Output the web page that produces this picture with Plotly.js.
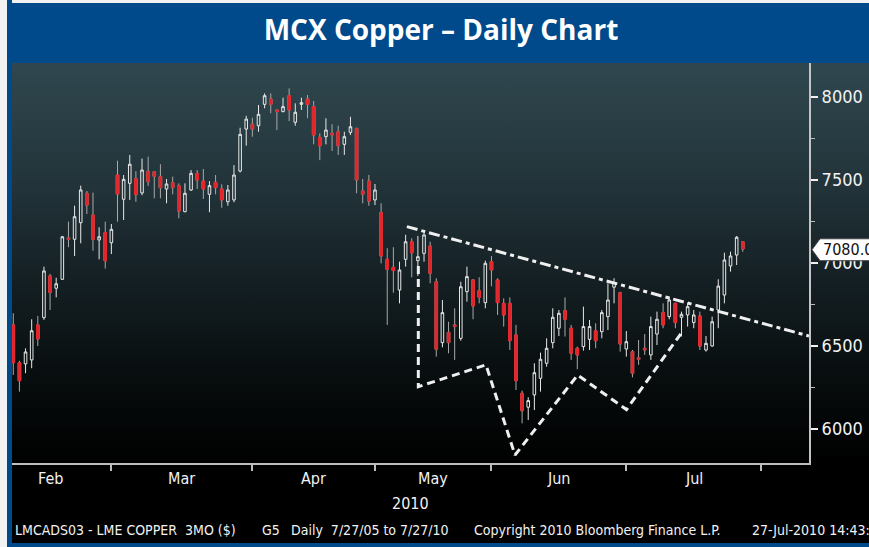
<!DOCTYPE html>
<html>
<head>
<meta charset="utf-8">
<script src="https://cdn.plot.ly/plotly-3.0.1.min.js"></script>
<style>
  html, body { margin: 0; padding: 0; background: #f2f2f2; }
  #wrap {
    position: relative; width: 869px; height: 547px; overflow: hidden;
    background:
      linear-gradient(#004a8c, #004a8c) 7px 0 / 5px 547px no-repeat,
      linear-gradient(#004a8c, #004a8c) 7px 3px / 862px 60px no-repeat,
      linear-gradient(#004a8c, #004a8c) 7px 543px / 862px 4px no-repeat,
      linear-gradient(#30474f 0%, #22343a 30%, #141f23 55%, #070c0d 80%, #000 100%) 12px 63px / 857px 400px no-repeat,
      linear-gradient(#000, #000) 7px 63px / 862px 484px no-repeat,
      #f2f2f2;
  }
  #chart { position: absolute; left: 0; top: 0; width: 869px; height: 547px; }
</style>
</head>
<body>
<div id="wrap"><div id="chart"></div></div>
<script>
// ---- data ----
const dates = [
 '2010-02-04','2010-02-05','2010-02-08','2010-02-09','2010-02-10','2010-02-11','2010-02-12','2010-02-15','2010-02-16','2010-02-17','2010-02-18','2010-02-19','2010-02-22','2010-02-23','2010-02-24','2010-02-25','2010-02-26',
 '2010-03-01','2010-03-02','2010-03-03','2010-03-04','2010-03-05','2010-03-08','2010-03-09','2010-03-10','2010-03-11','2010-03-12','2010-03-15','2010-03-16','2010-03-17','2010-03-18','2010-03-19','2010-03-22','2010-03-23','2010-03-24','2010-03-25','2010-03-26','2010-03-29','2010-03-30','2010-03-31',
 '2010-04-01','2010-04-06','2010-04-07','2010-04-08','2010-04-09','2010-04-12','2010-04-13','2010-04-14','2010-04-15','2010-04-16','2010-04-19','2010-04-20','2010-04-21','2010-04-22','2010-04-23','2010-04-26','2010-04-27','2010-04-28','2010-04-29','2010-04-30',
 '2010-05-04','2010-05-05','2010-05-06','2010-05-07','2010-05-10','2010-05-11','2010-05-12','2010-05-13','2010-05-14','2010-05-17','2010-05-18','2010-05-19','2010-05-20','2010-05-21','2010-05-24','2010-05-25','2010-05-26','2010-05-27','2010-05-28',
 '2010-06-01','2010-06-02','2010-06-03','2010-06-04','2010-06-07','2010-06-08','2010-06-09','2010-06-10','2010-06-11','2010-06-14','2010-06-15','2010-06-16','2010-06-17','2010-06-18','2010-06-21','2010-06-22','2010-06-23','2010-06-24','2010-06-25','2010-06-28','2010-06-29','2010-06-30',
 '2010-07-01','2010-07-02','2010-07-05','2010-07-06','2010-07-07','2010-07-08','2010-07-09','2010-07-12','2010-07-13','2010-07-14','2010-07-15','2010-07-16','2010-07-19','2010-07-20','2010-07-21','2010-07-22','2010-07-23','2010-07-26','2010-07-27'
];
const openP = [
 6627,6399,6392,6416,6627,6671,6922,6848,6902,7151,7143,7243,7420,7289,7139,7183,7122,
 7530,7384,7480,7508,7422,7552,7550,7520,7446,7484,7466,7309,7440,7540,7494,7414,7486,7446,7369,7380,7554,7807,7836,
 7827,7956,7988,7922,7912,8008,7848,7956,7988,7942,7757,7761,7781,7791,7715,7787,7811,7434,7494,7380,
 7303,7022,6974,6837,7022,7128,7014,7058,7102,6887,6520,6582,6627,6546,6827,6898,6833,6761,7008,
 6898,6757,6757,6566,6215,6131,6205,6305,6396,6520,6607,6713,6607,6486,6496,6540,6592,6586,6677,6854,6821,6482,
 6466,6430,6486,6446,6572,6701,6677,6757,6673,6687,6641,6681,6476,6500,6717,6807,6982,7048,7128
];
const highP = [
 6697,6411,6486,6661,6681,6978,6934,6911,7163,7249,7345,7466,7434,7424,7215,7249,7235,
 7616,7530,7651,7553,7629,7641,7552,7595,7506,7520,7480,7480,7560,7560,7566,7494,7530,7474,7470,7590,7815,7887,7875,
 7952,8022,8022,7922,7996,8052,7962,7996,8012,7976,7781,7872,7836,7827,7791,7881,7815,7506,7530,7476,
 7360,7089,7095,7008,7170,7149,7163,7189,7128,6908,6777,6646,6727,6887,6978,6902,6914,7014,7042,
 6908,6787,6793,6627,6231,6191,6396,6460,6546,6727,6717,6793,6627,6496,6737,6657,6637,6717,6878,6908,6827,6590,
 6476,6536,6572,6677,6707,6757,6797,6761,6707,6761,6717,6707,6560,6677,6902,7062,7068,7163,7128
];
const lowP = [
 6325,6225,6336,6366,6500,6657,6717,6793,6898,7095,7042,7119,7295,7074,7022,6966,7054,
 7249,7259,7380,7369,7408,7465,7390,7390,7360,7414,7269,7306,7434,7446,7386,7306,7414,7333,7345,7366,7546,7707,7761,
 7791,7932,7902,7801,7908,7855,7827,7922,7872,7715,7620,7715,7675,7651,7651,7771,7420,7360,7345,7349,
 6998,6627,6821,6757,6978,6914,6922,7008,6878,6436,6492,6456,6416,6532,6767,6661,6757,6727,6860,
 6687,6617,6476,6235,6034,6054,6114,6225,6375,6486,6560,6557,6416,6360,6472,6476,6486,6546,6596,6757,6466,6436,
 6311,6386,6446,6416,6506,6607,6661,6607,6557,6617,6607,6476,6466,6496,6607,6757,6948,6988,7068
];
const closeP = [
 6399,6291,6464,6592,6542,6952,6823,6875,7158,7143,7279,7440,7349,7143,7158,7014,7203,
 7416,7504,7595,7412,7560,7490,7522,7454,7476,7454,7313,7420,7540,7500,7446,7466,7454,7380,7440,7530,7775,7867,7807,
 7896,8008,7956,7912,7942,7922,7908,7966,7956,7771,7707,7801,7771,7707,7761,7821,7500,7414,7373,7440,
 7042,6962,6954,6958,7128,7062,7038,7169,6938,6480,6701,6520,6617,6857,6918,6741,6793,6998,6958,
 6761,6687,6532,6291,6110,6171,6339,6420,6486,6673,6697,6661,6456,6446,6617,6617,6532,6701,6777,6882,6512,6526,
 6336,6420,6476,6617,6661,6627,6777,6641,6691,6737,6687,6500,6516,6646,6861,7018,7042,7155,7085
];
const lastPrice = 7080;
const monthLabels = ['Feb','Mar','Apr','May','Jun','Jul'];
const yearLabel = '2010';
const yTicks = [6000, 6500, 7000, 7500, 8000];
const yMinorTicks = [6250, 6750, 7250, 7750];
// drawn pattern lines (trading-day index, price)
const trendX = [64.2, 129.8];
const trendY = [7219, 6560];
const patternX = [66.07, 66.07, 77.11, 81.84, 92.07, 100.03, 109.09];
const patternY = [6982, 6255, 6386, 5843, 6325, 6117, 6584];
const footerTexts = ['LMCADS03 - LME COPPER\u00a0\u00a03MO ($)', 'G5', 'Daily\u00a0\u00a07/27/05 to 7/27/10', 'Copyright 2010 Bloomberg Finance L.P.', '27-Jul-2010 14:43:55'];

// ---- derived ----
const xIdx = dates.map((d, i) => i);
const parse = d => { const [y, m, dd] = d.split('-').map(Number); return new Date(Date.UTC(y, m - 1, dd)); };
const isWd = t => { const w = t.getUTCDay(); return w !== 0 && w !== 6; };
const months = [];
dates.forEach((d, i) => {
  const k = d.slice(0, 7);
  if (!months.length || months[months.length - 1].key !== k) months.push({ key: k, first: i, last: i });
  else months[months.length - 1].last = i;
});
// extend last month to its calendar end, first month back to its start
const lastD = parse(dates[dates.length - 1]);
let extra = 0;
for (let t = new Date(lastD.getTime() + 864e5); t.getUTCMonth() === lastD.getUTCMonth(); t = new Date(t.getTime() + 864e5)) if (isWd(t)) extra++;
const firstD = parse(dates[0]);
let before = 0;
for (let t = new Date(firstD.getTime() - 864e5); t.getUTCMonth() === firstD.getUTCMonth(); t = new Date(t.getTime() - 864e5)) if (isWd(t)) before++;
const ends = months.map((m, i) => i === months.length - 1 ? m.last + extra : m.last);
const starts = ends.map((e, i) => i === 0 ? -1 - before : ends[i - 1]);
const mids = ends.map((e, i) => (e + starts[i]) / 2);

const decIdx = xIdx.filter(i => closeP[i] < openP[i]);

const NARROW = '"DejaVu Sans Condensed", "Liberation Sans Narrow", sans-serif';
const RED = '#e3262b';

const traces = [
  {
    type: 'candlestick', x: xIdx, open: openP, high: highP, low: lowP, close: closeP,
    increasing: { line: { color: '#e8e8e8', width: 1 }, fillcolor: 'rgba(0,0,0,0)' },
    decreasing: { line: { color: '#a9a9a9', width: 1 }, fillcolor: RED },
    whiskerwidth: 0, hoverinfo: 'skip', showlegend: false
  },
  {
    // red bodies of the down days, drawn over their grey outline
    type: 'candlestick', x: decIdx,
    open: decIdx.map(i => openP[i]), close: decIdx.map(i => closeP[i]),
    high: decIdx.map(i => openP[i]), low: decIdx.map(i => closeP[i]),
    increasing: { line: { color: RED, width: 1 }, fillcolor: RED },
    decreasing: { line: { color: RED, width: 1 }, fillcolor: RED },
    whiskerwidth: 0, hoverinfo: 'skip', showlegend: false
  },
  {
    type: 'scatter', mode: 'lines', x: trendX, y: trendY,
    line: { color: '#efefef', width: 3, dash: '11px,4px,4px,4px' }, hoverinfo: 'skip', showlegend: false
  },
  {
    type: 'scatter', mode: 'lines', x: patternX, y: patternY,
    line: { color: '#efefef', width: 3, dash: '8px,5px' }, hoverinfo: 'skip', showlegend: false
  }
];

const annotations = [];
monthLabels.forEach((t, i) => annotations.push({
  text: t, x: mids[i], xref: 'x', y: -0.0375, yref: 'paper', xanchor: 'center', yanchor: 'middle',
  showarrow: false, font: { family: NARROW, size: 16, color: '#f2f2f2' }
}));
annotations.push({
  text: yearLabel, x: 0.5, xref: 'paper', y: -0.1, yref: 'paper', xanchor: 'center', yanchor: 'middle',
  showarrow: false, font: { family: NARROW, size: 16, color: '#f2f2f2' }
});
const footerPx = [13, 260, 289, 472, 750];
footerTexts.forEach((t, i) => annotations.push({
  text: t, x: (footerPx[i] - 12) / 797, xref: 'paper', y: -0.1675, yref: 'paper', xanchor: 'left', yanchor: 'middle',
  showarrow: false, font: { family: NARROW, size: 14, color: '#f2f2f2' }
}));
annotations.push({
  text: lastPrice.toFixed(2), x: 1.0151, xref: 'paper', y: lastPrice, yref: 'y', xanchor: 'left', yanchor: 'middle',
  showarrow: false, font: { family: NARROW, size: 16, color: '#111' }
});

const layout = {
  width: 869, height: 547,
  margin: { l: 12, r: 60, t: 63, b: 84, pad: 0 },
  paper_bgcolor: 'rgba(0,0,0,0)', plot_bgcolor: 'rgba(0,0,0,0)',
  showlegend: false, boxgap: 0.4, dragmode: false,
  title: {
    text: 'MCX Copper – Daily Chart', x: 0.5075, xref: 'container', xanchor: 'center',
    y: 0.945, yref: 'container', yanchor: 'middle',
    font: { family: 'Open Sans, sans-serif', size: 28, color: '#ffffff', weight: 'bold' }
  },
  xaxis: {
    range: [-0.21, 129.8], tickmode: 'array', tickvals: ends, showticklabels: false,
    ticks: 'outside', ticklen: 6, tickwidth: 2, tickcolor: '#bdbdbd',
    showline: true, linecolor: '#bdbdbd', linewidth: 2, showgrid: false, zeroline: false,
    rangeslider: { visible: false }, fixedrange: true
  },
  yaxis: {
    side: 'right', range: [5795, 8205], tickmode: 'array', tickvals: yTicks,
    ticktext: yTicks.map(String),
    ticks: 'outside', ticklen: 7, tickwidth: 2, tickcolor: '#f0f0f0',
    showline: true, linecolor: '#c4c4c4', linewidth: 2, showgrid: false, zeroline: false,
    tickfont: { family: NARROW, size: 18, color: '#f2f2f2' },
    minor: { tickmode: 'array', tickvals: yMinorTicks, ticks: 'outside', ticklen: 4, tickwidth: 1, tickcolor: '#bdbdbd', showgrid: false },
    fixedrange: true
  },
  shapes: [{
    type: 'path', xref: 'paper', yref: 'y', layer: 'above',
    path: `M 1.00376 ${lastPrice} L 1.0138 ${lastPrice + 66} L 1.09 ${lastPrice + 66} L 1.09 ${lastPrice - 66} L 1.0138 ${lastPrice - 66} Z`,
    fillcolor: '#ffffff', line: { color: '#444', width: 1 }
  }],
  annotations: annotations
};

Plotly.newPlot('chart', traces, layout, { displayModeBar: false, staticPlot: true });
</script>
</body>
</html>
